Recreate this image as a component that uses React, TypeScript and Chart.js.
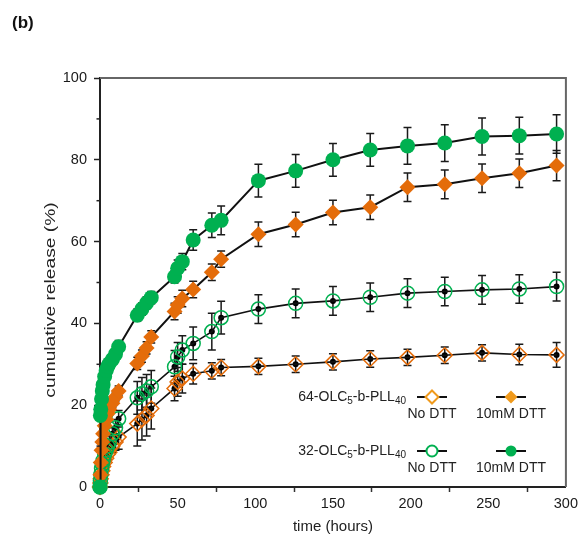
import React, { useEffect, useRef } from 'react';
import { Chart, registerables } from 'chart.js';

Chart.register(...registerables);

// time points (hours)
const hours = [0, 0.25, 0.5, 1, 1.5, 2, 3, 4, 5, 6, 8, 10, 12, 24, 27, 30, 33, 48, 50, 53, 60, 72, 78, 102, 126, 150, 174, 198, 222, 246, 270, 294];

// 64-OLC5-b-PLL40, No DTT
const p64NoDTT = [0, 1, 2, 3, 4, 5, 6, 7, 8, 8.5, 10, 11, 12.2, 15.5, 16.5, 17.5, 19.2, 24.1, 25.7, 26.5, 27.7, 28.4, 29.2, 29.5, 30, 30.6, 31.3, 31.7, 32.2, 32.8, 32.4, 32.3];
const e64NoDTT = [0, 0.5, 0.5, 0.5, 0.5, 0.8, 1, 1, 1.2, 1.2, 1.5, 2, 3, 5.5, 5, 5, 5, 3, 3.5, 3.5, 2.5, 2, 2, 2, 2, 2, 2, 2, 2, 2, 2.5, 3];
// 64-OLC5-b-PLL40, 10mM DTT
const p64DTT = [0, 3, 6, 9, 11, 13, 15, 16.5, 18, 19, 20.5, 22, 23.5, 30.2, 32, 34, 36.7, 42.9, 44.5, 46.1, 48.3, 52.5, 55.7, 61.8, 64.2, 67.1, 68.4, 73.3, 74.0, 75.5, 76.7, 78.6];
const e64DTT = [0, 0.5, 0.5, 0.5, 0.5, 0.5, 0.8, 0.8, 1, 1, 1, 1, 1.2, 1.5, 1.5, 1.5, 1.5, 2, 2, 2, 2, 2, 2, 3, 3, 3, 3, 3.5, 3.5, 3.5, 3.5, 3.7];
// 32-OLC5-b-PLL40, No DTT
const p32NoDTT = [0, 1.5, 3, 4.5, 5.5, 6.5, 8, 9, 10, 11, 13, 14.5, 16.7, 21.8, 22.8, 23.5, 24.5, 29.4, 31.8, 33.5, 35.1, 38.0, 41.4, 43.5, 44.9, 45.5, 46.4, 47.4, 47.8, 48.2, 48.4, 49.0];
const e32NoDTT = [0, 0.5, 0.5, 0.8, 0.8, 1, 1, 1.2, 1.2, 1.5, 1.5, 2, 2, 4, 4, 4, 4, 4, 3.5, 3.5, 4, 4.5, 4, 3.5, 3.5, 3.5, 3.5, 3.5, 3.5, 3.5, 3.5, 3.5];
// 32-OLC5-b-PLL40, 10mM DTT
const p32DTT = [0, 17.5, 19, 21.5, 23.5, 25, 27, 28.5, 29.5, 30.2, 31.2, 32.5, 34.3, 42, 43.5, 45, 46.3, 51.4, 53.5, 55.1, 60.4, 64, 65.2, 74.9, 77.3, 80, 82.4, 83.4, 84.1, 85.7, 85.9, 86.3];
const e32DTT = [0, 0.5, 0.5, 0.5, 0.5, 0.5, 0.8, 0.8, 0.8, 1, 1, 1, 1.5, 1.5, 1.5, 1.5, 1.5, 1.5, 2, 2, 2.5, 3, 3.5, 4, 4, 4, 4, 4.5, 4.5, 4.5, 4.5, 4.7];

const xTicks = [0, 50, 100, 150, 200, 250, 300];
const yTicks = [0, 20, 40, 60, 80, 100];

const GREEN = '#00b050';
const ORANGE = '#e46c0a';
const LEG_ORANGE = '#f09a1c';
const FONT = '"Liberation Sans", Arial, sans-serif';

const errorSets = [e32DTT, e64DTT, e32NoDTT, e64NoDTT];
const openSet = [false, false, true, true];

const toXY = (vals: number[]) => hours.map((h, i) => ({ x: h, y: vals[i] }));

function drawSubLabel(ctx: CanvasRenderingContext2D, parts: [string, boolean][], xRight: number, y: number) {
  const main = `14px ${FONT}`;
  const sub = `10px ${FONT}`;
  let total = 0;
  parts.forEach(([t, s]) => {
    ctx.font = s ? sub : main;
    total += ctx.measureText(t).width;
  });
  let x = xRight - total;
  ctx.textAlign = 'left';
  ctx.textBaseline = 'middle';
  parts.forEach(([t, s]) => {
    ctx.font = s ? sub : main;
    ctx.fillText(t, x, s ? y + 4 : y);
    x += ctx.measureText(t).width;
  });
}

const overlayPlugin = {
  id: 'overlay',
  beforeDatasetsDraw(chart: any) {
    const ctx: CanvasRenderingContext2D = chart.ctx;
    const ys = chart.scales.y;
    ctx.save();
    chart.data.datasets.forEach((ds: any, i: number) => {
      const meta = chart.getDatasetMeta(i);
      const errs = errorSets[i];
      meta.data.forEach((pt: any, j: number) => {
        const v = ds.data[j].y;
        const e = errs[j];
        ctx.strokeStyle = '#1a1a1a';
        ctx.lineWidth = 1.5;
        if (e > 0) {
          const yT = ys.getPixelForValue(v + e);
          const yB = ys.getPixelForValue(v - e);
          ctx.beginPath();
          ctx.moveTo(pt.x, yT);
          ctx.lineTo(pt.x, yB);
          ctx.moveTo(pt.x - 4, yT);
          ctx.lineTo(pt.x + 4, yT);
          ctx.moveTo(pt.x - 4, yB);
          ctx.lineTo(pt.x + 4, yB);
          ctx.stroke();
        }
        if (openSet[i]) {
          ctx.fillStyle = '#000';
          ctx.beginPath();
          ctx.arc(pt.x, pt.y, 3, 0, Math.PI * 2);
          ctx.fill();
        }
      });
    });
    ctx.restore();
  },
  afterDraw(chart: any) {
    const ctx: CanvasRenderingContext2D = chart.ctx;
    const { left, right, top, bottom } = chart.chartArea;
    const ys = chart.scales.y;
    ctx.save();
    // top & right frame
    ctx.strokeStyle = '#666';
    ctx.lineWidth = 2;
    ctx.beginPath();
    ctx.moveTo(left, top);
    ctx.lineTo(right, top);
    ctx.lineTo(right, bottom);
    ctx.stroke();
    // minor y ticks
    ctx.strokeStyle = '#222';
    ctx.lineWidth = 1.5;
    for (let v = 10; v < 100; v += 20) {
      const py = ys.getPixelForValue(v);
      ctx.beginPath();
      ctx.moveTo(left - 3.5, py);
      ctx.lineTo(left, py);
      ctx.stroke();
    }
    // panel label
    ctx.fillStyle = '#111';
    ctx.font = `bold 17px ${FONT}`;
    ctx.textAlign = 'left';
    ctx.textBaseline = 'middle';
    ctx.fillText('(b)', 12, 23);
    // axis titles
    ctx.font = `15px ${FONT}`;
    ctx.fillStyle = '#222';
    ctx.textAlign = 'center';
    ctx.fillText('time (hours)', (left + right) / 2, 527);
    ctx.save();
    ctx.translate(51, 300);
    ctx.rotate(-Math.PI / 2);
    ctx.scale(1.28, 1);
    ctx.fillText('cumulative release (%)', 0, 0);
    ctx.restore();

    // legend
    ctx.fillStyle = '#222';
    const rows = [
      { y: 397, label: [['64-OLC', false], ['5', true], ['-b-PLL', false], ['40', true]] as [string, boolean][], shape: 'diamond' },
      { y: 451, label: [['32-OLC', false], ['5', true], ['-b-PLL', false], ['40', true]] as [string, boolean][], shape: 'circle' },
    ];
    const cols = [432, 511];
    rows.forEach((r) => {
      ctx.fillStyle = '#222';
      drawSubLabel(ctx, r.label, 406, r.y);
      cols.forEach((cx, k) => {
        ctx.strokeStyle = '#111';
        ctx.lineWidth = 2;
        ctx.beginPath();
        ctx.moveTo(cx - 15, r.y);
        ctx.lineTo(cx + 15, r.y);
        ctx.stroke();
        const col = r.shape === 'diamond' ? LEG_ORANGE : GREEN;
        ctx.beginPath();
        if (r.shape === 'diamond') {
          const s = 6.5;
          ctx.moveTo(cx, r.y - s);
          ctx.lineTo(cx + s, r.y);
          ctx.lineTo(cx, r.y + s);
          ctx.lineTo(cx - s, r.y);
          ctx.closePath();
        } else {
          ctx.arc(cx, r.y, 5.5, 0, Math.PI * 2);
        }
        if (k === 0) {
          ctx.fillStyle = '#fff';
          ctx.fill();
          ctx.strokeStyle = col;
          ctx.lineWidth = 2;
          ctx.stroke();
        } else {
          ctx.fillStyle = col;
          ctx.fill();
        }
        ctx.fillStyle = '#222';
        ctx.font = `14px ${FONT}`;
        ctx.textAlign = 'center';
        ctx.textBaseline = 'middle';
        ctx.fillText(k === 0 ? 'No DTT' : '10mM DTT', cx, r.y + 17);
      });
    });
    ctx.restore();
  },
};

export default function App() {
  const ref = useRef<HTMLCanvasElement | null>(null);
  useEffect(() => {
    if (!ref.current) return;
    const chart = new Chart(ref.current, {
      type: 'line',
      data: {
        datasets: [
          {
            label: '32-OLC5-b-PLL40 10mM DTT',
            data: toXY(p32DTT),
            borderColor: '#111',
            borderWidth: 2,
            pointStyle: 'circle',
            pointRadius: 7.5,
            pointBackgroundColor: GREEN,
            pointBorderColor: GREEN,
            pointBorderWidth: 0,
            tension: 0,
            clip: false,
          },
          {
            label: '64-OLC5-b-PLL40 10mM DTT',
            data: toXY(p64DTT),
            borderColor: '#111',
            borderWidth: 2,
            pointStyle: 'rectRot',
            pointRadius: 8,
            pointBackgroundColor: ORANGE,
            pointBorderColor: ORANGE,
            pointBorderWidth: 0,
            tension: 0,
            clip: false,
          },
          {
            label: '32-OLC5-b-PLL40 No DTT',
            data: toXY(p32NoDTT),
            borderColor: '#111',
            borderWidth: 1.6,
            pointStyle: 'circle',
            pointRadius: 7,
            pointBackgroundColor: 'rgba(0,0,0,0)',
            pointBorderColor: GREEN,
            pointBorderWidth: 1.5,
            tension: 0,
            clip: false,
          },
          {
            label: '64-OLC5-b-PLL40 No DTT',
            data: toXY(p64NoDTT),
            borderColor: '#111',
            borderWidth: 1.6,
            pointStyle: 'rectRot',
            pointRadius: 7.5,
            pointBackgroundColor: 'rgba(0,0,0,0)',
            pointBorderColor: ORANGE,
            pointBorderWidth: 1.5,
            tension: 0,
            clip: false,
          },
        ],
      },
      options: {
        responsive: false,
        animation: false,
        layout: { padding: { left: 0, top: 78, right: 14, bottom: 0 } },
        plugins: { legend: { display: false }, tooltip: { enabled: false } },
        scales: {
          x: {
            type: 'linear',
            min: 0,
            max: 300,
            afterFit: (s: any) => { s.height = 48; },
            afterBuildTicks: (s: any) => {
              const t = [];
              for (let v = 0; v <= 300; v += 25) t.push({ value: v });
              s.ticks = t;
            },
            ticks: {
              autoSkip: false,
              maxRotation: 0,
              padding: 3,
              color: '#1a1a1a',
              font: { size: 14.5, family: FONT },
              callback: (v: any) => (xTicks.includes(Number(v)) ? String(v) : ''),
            },
            grid: {
              display: true,
              drawOnChartArea: false,
              drawTicks: true,
              tickLength: 5,
              tickWidth: 1.5,
              tickColor: (c: any) => (c.tick && c.tick.value % 50 === 0 ? 'rgba(0,0,0,0)' : '#333'),
            },
            border: { display: true, color: '#222', width: 2 },
          },
          y: {
            type: 'linear',
            min: 0,
            max: 100,
            afterFit: (s: any) => { s.width = 100; },
            afterBuildTicks: (s: any) => {
              s.ticks = yTicks.map((v) => ({ value: v }));
            },
            ticks: {
              padding: 7,
              color: '#1a1a1a',
              font: { size: 14.5, family: FONT },
              callback: (v: any) => String(v),
            },
            grid: {
              display: true,
              drawOnChartArea: false,
              drawTicks: true,
              tickLength: 6,
              tickWidth: 1.5,
              tickColor: '#222',
            },
            border: { display: true, color: '#222', width: 2 },
          },
        },
      },
      plugins: [overlayPlugin],
    } as any);
    return () => chart.destroy();
  }, []);
  return (
    <div style={{ position: 'fixed', left: 0, top: 0, width: 581, height: 535, background: '#fff' }}>
      <canvas ref={ref} width={581} height={535} style={{ display: 'block' }} />
    </div>
  );
}
